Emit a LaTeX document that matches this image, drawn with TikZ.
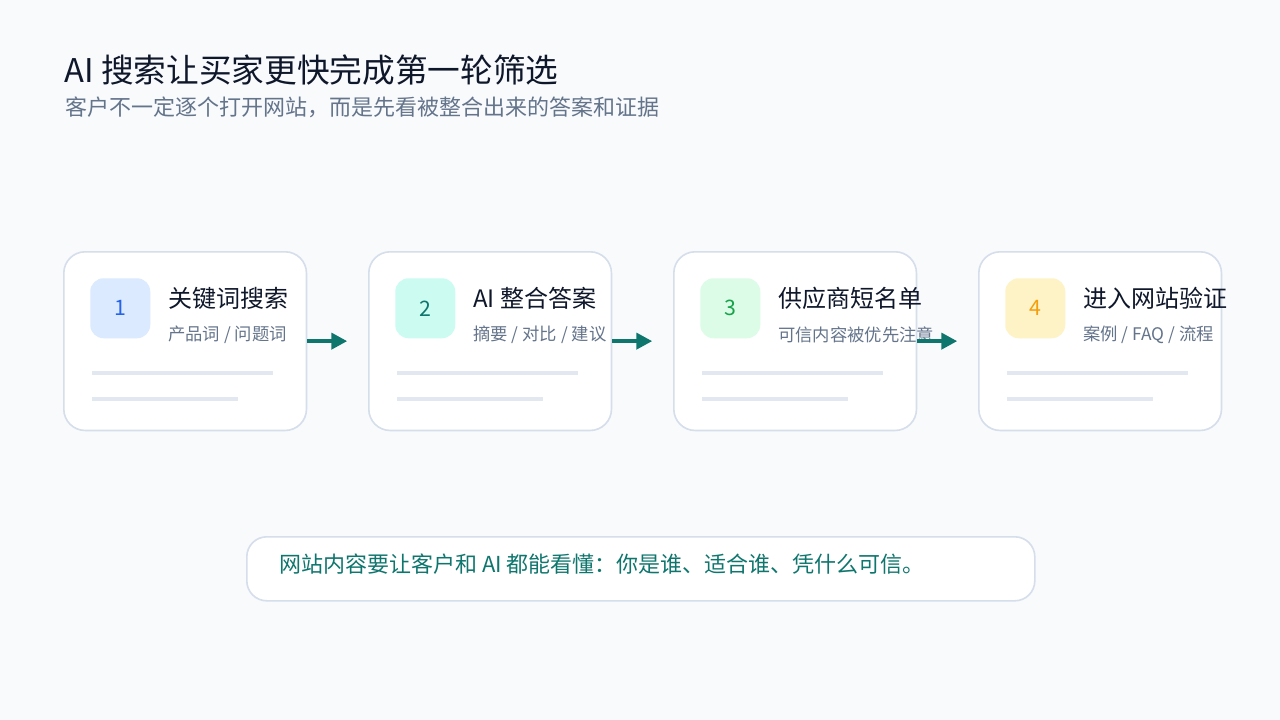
\documentclass[tikz,border=0pt]{standalone}
\usepackage{fontspec}
\setmainfont{Noto Sans CJK SC}
\usetikzlibrary{arrows.meta,positioning}
\definecolor{bg}{HTML}{F8FAFC}
\definecolor{edge}{HTML}{D5DEEA}
\definecolor{ink}{HTML}{0F172A}
\definecolor{muted}{HTML}{64748B}
\definecolor{bar}{HTML}{E2E8F0}
\definecolor{teal}{HTML}{0F766E}
\tikzset{
  card/.style={draw=edge,line width=1.2pt,fill=white,rounded corners=16pt,minimum width=182pt,minimum height=134pt,inner sep=0pt},
  badge/.style={rounded corners=10pt,minimum size=45pt,inner sep=0pt,font=\fontsize{16}{16}\selectfont},
  head/.style={anchor=west,inner sep=0pt,text=ink,font=\fontsize{18}{20}\selectfont},
  sub/.style={anchor=west,inner sep=0pt,text=muted,font=\fontsize{13}{15}\selectfont},
  bar/.style={draw=bar,line width=3pt},
  flow/.style={draw=teal,line width=3pt,-{Triangle[length=12pt,width=12pt]}}
}
\begin{document}
\begin{tikzpicture}[x=0.75pt,y=0.75pt,yscale=-1]
\fill[bg] (0,0) rectangle (1280,720);
\useasboundingbox (0,0) rectangle (1280,720);

% title
\node[anchor=west,inner sep=0pt,text=ink,font=\fontsize{24.5}{28}\selectfont] (title) at (64,70) {AI 搜索让买家更快完成第一轮筛选};
\node[anchor=west,inner sep=0pt,text=muted,font=\fontsize{16.5}{19}\selectfont] (subtitle) at (65,107) {客户不一定逐个打开网站，而是先看被整合出来的答案和证据};

% steps
\foreach \i/\x/\fillc/\numc/\t/\s in {
  1/63/DBEAFE/2563EB/关键词搜索/{产品词 / 问题词},
  2/368/CCFBF1/0F766E/AI 整合答案/{摘要 / 对比 / 建议},
  3/673/DCFCE7/16A34A/供应商短名单/{可信内容被优先注意},
  4/978/FEF3C7/F59E0B/进入网站验证/{案例 / FAQ / 流程}}{
  \definecolor{bfill}{HTML}{\fillc}
  \definecolor{bnum}{HTML}{\numc}
  \node[card,anchor=north west] (c\i) at (\x,251) {};
  \node[badge,fill=bfill,text=bnum,anchor=north west] (b\i) at (\x+27,278) {\i};
  \node[head] (h\i) at (\x+105,298) {\t};
  \node[sub] (s\i) at (\x+105,335) {\s};
  \draw[bar] (\x+29,373) -- (\x+210,373);
  \draw[bar] (\x+29,399) -- (\x+175,399);
}
\foreach \a in {1,2,3}{
  \coordinate (e\a) at ([xshift=30pt]c\a.east);
  \draw[flow] (c\a.east) -- (e\a);
}

% footer
\node[draw=edge,line width=1.2pt,fill=white,rounded corners=15pt,minimum width=591pt,minimum height=48pt,anchor=north west] (note) at (246,536) {};
\node[anchor=west,inner sep=0pt,text=teal,font=\fontsize{16.5}{19}\selectfont] (notetext) at (279,564) {网站内容要让客户和 AI 都能看懂：你是谁、适合谁、凭什么可信。};
\end{tikzpicture}
\end{document}
